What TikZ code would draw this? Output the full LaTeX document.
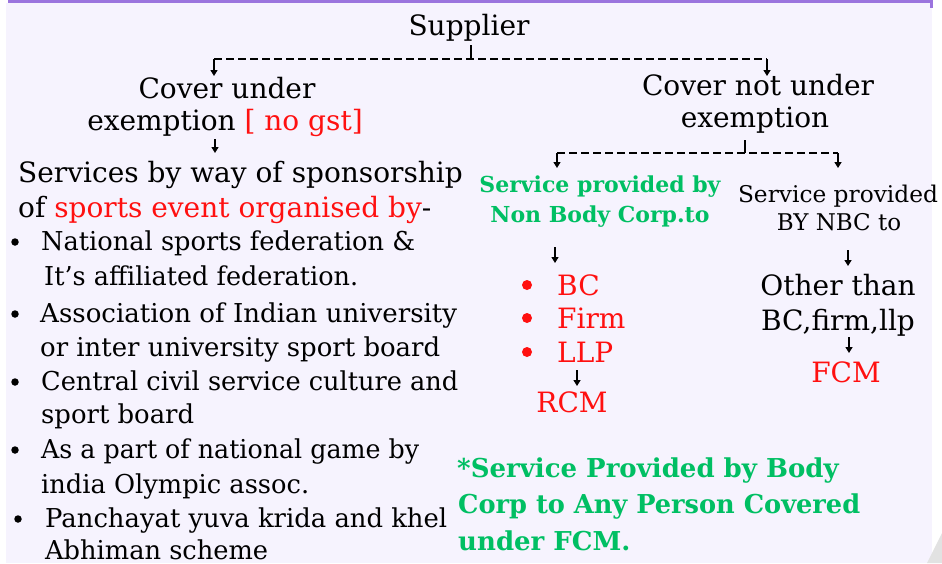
\documentclass[tikz,border=0pt]{standalone}
\usepackage{fontspec}
\usepackage{graphicx}
\setmainfont{DejaVu Serif}
\usetikzlibrary{arrows.meta}
\definecolor{bg}{HTML}{F6F3FE}
\definecolor{bar}{HTML}{9B74DE}
\definecolor{grn}{HTML}{00BF63}
\definecolor{rd}{HTML}{FF1010}
\definecolor{tri}{HTML}{E2E2E2}
\newcommand\fitto[2]{\resizebox{#1pt}{\height}{#2}}
\begin{document}
\begin{tikzpicture}[x=1pt,y=-1pt,
  txt/.style={inner sep=0pt, anchor=base, font=\fontsize{28}{34}\selectfont},
  txtl/.style={txt, anchor=base west},
  bl/.style={inner sep=0pt, anchor=base west, font=\fontsize{26}{32}\selectfont},
  sm/.style={inner sep=0pt, anchor=base, font=\fontsize{23}{28}\selectfont},
  gsm/.style={inner sep=0pt, anchor=base, text=grn, font=\fontsize{22}{27}\selectfont\bfseries},
  gbig/.style={inner sep=0pt, anchor=base west, text=grn, font=\fontsize{26}{32}\selectfont\bfseries},
  arr/.style={line width=1.4pt, -{Triangle[width=7pt,length=6pt]}},
  tickline/.style={line width=1.4pt},
  dsh/.style={line width=1.4pt, dash pattern=on 8pt off 4pt},
  bdot/.style={circle, fill=black, inner sep=0pt, minimum size=7.5pt},
  rdot/.style={circle, fill=rd, inner sep=0pt, minimum size=10pt}]
\useasboundingbox (0,0) rectangle (942,563);
% background
\fill[white] (0,0) rectangle (942,563);
\fill[bg] (6,3) rectangle (932,563);
\fill[bar] (8,0) rectangle (933,3);
\fill[bar] (930,0) rectangle (933,8);
\fill[tri] (927,563) -- (942,533) -- (942,563) -- cycle;

% top
\node[txt] (sup) at (469,35) {Supplier};
\node[txt] (cu1) at (227,98) {Cover under};
\node[txt] (cu2) at (225,130) {exemption \textcolor{rd}{[ no gst]}};
\node[txt] (cn1) at (758,95) {Cover not under};
\node[txt] (cn2) at (755,127) {exemption};

% left column
\node[txtl] (s1) at (18,182) {Services by way of sponsorship};
\node[txtl] (s2) at (18,217) {of \textcolor{rd}{sports event organised by}-};
\node[bl] (b1a) at (41,250) {\fitto{374}{National sports federation \&}};
\node[bl] (b1b) at (44,285) {\fitto{314}{It's affiliated federation.}};
\node[bl] (b2a) at (40,322) {\fitto{417}{Association of Indian university}};
\node[bl] (b2b) at (40,356) {\fitto{400}{or inter university sport board}};
\node[bl] (b3a) at (41,390) {\fitto{417}{Central civil service culture and}};
\node[bl] (b3b) at (41,423) {\fitto{153}{sport board}};
\node[bl] (b4a) at (41,458) {\fitto{378}{As a part of national game by}};
\node[bl] (b4b) at (41,493) {\fitto{268}{india Olympic assoc.}};
\node[bl] (b5a) at (45,527) {\fitto{402}{Panchayat yuva krida and khel}};
\node[bl] (b5b) at (45,559) {\fitto{223}{Abhiman scheme}};
\node[bdot] (d1) at (15,242) {};
\node[bdot] (d2) at (15,314) {};
\node[bdot] (d3) at (15,382) {};
\node[bdot] (d4) at (15,450) {};
\node[bdot] (d5) at (18,519) {};

% right column
\node[gsm] (g1) at (600,192) {Service provided by};
\node[gsm] (g2) at (600,222) {Non Body Corp.to};
\node[sm] (n1) at (838,202) {\fitto{200}{Service provided}};
\node[sm] (n2) at (839,230) {BY NBC to};
\node[txtl, text=rd] (bc) at (557,295) {BC};
\node[txtl, text=rd] (firm) at (557,328) {Firm};
\node[txtl, text=rd] (llp) at (557,362) {LLP};
\node[rdot] (r1) at (527,285) {};
\node[rdot] (r2) at (527,318) {};
\node[rdot] (r3) at (527,352) {};
\node[txt, text=rd] (rcm) at (572,412) {RCM};
\node[txt] (ot1) at (838,295) {Other than};
\node[txt] (ot2) at (838,330) {BC,firm,llp};
\node[txt, text=rd] (fcm) at (846,382) {FCM};
\node[gbig] (f1) at (457,477) {*Service Provided by Body};
\node[gbig] (f2) at (458,513) {\fitto{402}{Corp to Any Person Covered}};
\node[gbig] (f3) at (458,550) {under FCM.};

% connectors, level 1
\coordinate (t0) at (471,45);
\coordinate (t1) at (471,59);
\coordinate (h1l) at (214,59);
\coordinate (h1r) at (767,59);
\coordinate (cuT) at (214,76);
\coordinate (cnT) at (767,76);
\draw[tickline] (t0) -- (t1);
\draw[dsh] (h1l) -- (h1r);
\draw[arr] (h1l) -- (cuT);
\draw[arr] (h1r) -- (cnT);
% cover under -> services
\coordinate (a4s) at (215,139);
\coordinate (a4e) at (215,153);
\draw[arr] (a4s) -- (a4e);
% level 2
\coordinate (t2a) at (745,140);
\coordinate (t2) at (745,153);
\coordinate (h2l) at (557,153);
\coordinate (h2r) at (838,153);
\coordinate (gT) at (557,168);
\coordinate (nT) at (838,168);
\draw[tickline] (t2a) -- (t2);
\draw[dsh] (h2l) -- (h2r);
\draw[arr] (h2l) -- (gT);
\draw[arr] (h2r) -- (nT);
% lower arrows
\coordinate (a6s) at (555,247);
\coordinate (a6e) at (555,263);
\draw[arr] (a6s) -- (a6e);
\coordinate (a7s) at (848,250);
\coordinate (a7e) at (848,266);
\draw[arr] (a7s) -- (a7e);
\coordinate (a8s) at (577,370);
\coordinate (a8e) at (577,386);
\draw[arr] (a8s) -- (a8e);
\coordinate (a9s) at (849,337);
\coordinate (a9e) at (849,353);
\draw[arr] (a9s) -- (a9e);
\end{tikzpicture}
\end{document}
